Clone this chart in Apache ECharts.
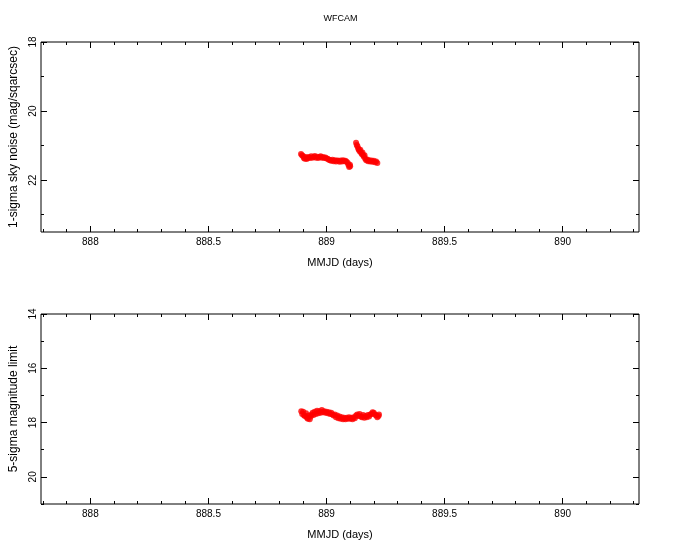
<!DOCTYPE html>
<html><head><meta charset="utf-8">
<script src="https://cdn.jsdelivr.net/npm/echarts@6/dist/echarts.min.js"></script>
<style>html,body{margin:0;padding:0;background:#fff}#c{width:681px;height:545px}</style>
</head><body><div id="c"></div>
<script>
const titleText = 'WFCAM';
const xName = 'MMJD (days)';
const yName1 = '1-sigma sky noise (mag/sqarcsec)';
const yName2 = '5-sigma magnitude limit';

const xMajorTicks = [888, 888.5, 889, 889.5, 890];
const xMinorTicks = [887.8, 887.9, 888.1, 888.2, 888.3, 888.4, 888.6, 888.7, 888.8, 888.9,
  889.1, 889.2, 889.3, 889.4, 889.6, 889.7, 889.8, 889.9, 890.1, 890.2, 890.3];
const y1MajorTicks = [18, 20, 22];
const y1MinorTicks = [19, 21, 23];
const y2MajorTicks = [14, 16, 18, 20];
const y2MinorTicks = [15, 17, 19, 21];

const noiseMjd = [888.892, 888.896, 888.900, 888.904, 888.908, 888.912, 888.916, 888.920, 888.925, 888.930,
  888.935, 888.940, 888.945, 888.950, 888.955, 888.960, 888.965, 888.970, 888.975, 888.980,
  888.985, 888.990, 888.995, 889.000, 889.005, 889.010, 889.015, 889.020, 889.025, 889.030,
  889.035, 889.040, 889.045, 889.050, 889.055, 889.060, 889.065, 889.070, 889.075, 889.080,
  889.085, 889.090, 889.093, 889.096, 889.099, 889.100,
  889.125, 889.128, 889.131, 889.134, 889.137, 889.140, 889.143, 889.146, 889.149, 889.152,
  889.155, 889.158, 889.161, 889.164, 889.168, 889.172, 889.176, 889.180, 889.185, 889.190,
  889.195, 889.200, 889.205, 889.210, 889.215];
const noiseVal = [21.24, 21.28, 21.30, 21.36, 21.38, 21.33, 21.39, 21.36, 21.33, 21.36,
  21.31, 21.35, 21.33, 21.30, 21.35, 21.32, 21.36, 21.33, 21.31, 21.35,
  21.33, 21.36, 21.34, 21.37, 21.38, 21.41, 21.42, 21.44, 21.41, 21.45,
  21.42, 21.46, 21.43, 21.44, 21.47, 21.43, 21.46, 21.42, 21.45, 21.44,
  21.47, 21.50, 21.56, 21.62, 21.55, 21.60,
  20.92, 20.98, 21.02, 21.08, 21.12, 21.16, 21.12, 21.20, 21.24, 21.20,
  21.28, 21.32, 21.28, 21.38, 21.42, 21.40, 21.45, 21.42, 21.46, 21.43,
  21.47, 21.44, 21.48, 21.46, 21.50];

const limitMjd = [888.893, 888.897, 888.901, 888.905, 888.909, 888.913, 888.917, 888.921, 888.925, 888.929,
  888.933, 888.937, 888.941, 888.945, 888.950, 888.955, 888.960, 888.965, 888.970, 888.975,
  888.980, 888.985, 888.990, 888.995, 889.000, 889.005, 889.010, 889.015, 889.020, 889.025,
  889.030, 889.035, 889.040, 889.045, 889.050, 889.055, 889.060, 889.065, 889.070, 889.075,
  889.080, 889.085, 889.090, 889.095, 889.100, 889.105, 889.110, 889.115, 889.120, 889.125,
  889.130, 889.135, 889.140, 889.145, 889.150, 889.155, 889.160, 889.165, 889.170, 889.175,
  889.180, 889.185, 889.190, 889.195, 889.200, 889.205, 889.210, 889.215, 889.220, 889.222];
const limitVal = [17.58, 17.68, 17.60, 17.74, 17.76, 17.66, 17.82, 17.86, 17.74, 17.88,
  17.78, 17.70, 17.64, 17.72, 17.60, 17.68, 17.56, 17.66, 17.58, 17.64,
  17.54, 17.62, 17.58, 17.64, 17.60, 17.66, 17.62, 17.68, 17.64, 17.70,
  17.74, 17.70, 17.80, 17.74, 17.84, 17.78, 17.86, 17.80, 17.88, 17.82,
  17.88, 17.82, 17.86, 17.80, 17.86, 17.82, 17.88, 17.80, 17.84, 17.74,
  17.70, 17.76, 17.68, 17.78, 17.80, 17.72, 17.82, 17.76, 17.80, 17.72,
  17.78, 17.70, 17.68, 17.62, 17.64, 17.70, 17.74, 17.80, 17.76, 17.70];

const X_MIN = 887.791, X_MAX = 890.323;
const Y1_MIN = 18, Y1_MAX = 23.5;
const Y2_MIN = 14, Y2_MAX = 21;

const FONT = 'Liberation Sans';
const BLACK = '#000';

function xAxesFor(gi) {
  const base = { type: 'value', gridIndex: gi, min: X_MIN, max: X_MAX,
    axisLine: { show: false }, splitLine: { show: false } };
  return [
    Object.assign({}, base, { position: 'bottom',
      axisTick: { inside: true, length: 6, customValues: xMajorTicks, lineStyle: { color: BLACK, width: 1 } },
      axisLabel: { customValues: xMajorTicks, color: BLACK, fontFamily: FONT, fontSize: 10, margin: 5,
        formatter: v => String(v) },
      name: xName, nameLocation: 'middle', nameGap: 25,
      nameTextStyle: { color: BLACK, fontFamily: FONT, fontSize: 11 } }),
    Object.assign({}, base, { position: 'bottom',
      axisTick: { inside: true, length: 3, customValues: xMinorTicks, lineStyle: { color: BLACK, width: 1 } },
      axisLabel: { show: false } }),
    Object.assign({}, base, { position: 'top',
      axisTick: { inside: true, length: 6, customValues: xMajorTicks, lineStyle: { color: BLACK, width: 1 } },
      axisLabel: { show: false } }),
    Object.assign({}, base, { position: 'top',
      axisTick: { inside: true, length: 3, customValues: xMinorTicks, lineStyle: { color: BLACK, width: 1 } },
      axisLabel: { show: false } })
  ];
}

function yAxesFor(gi, mn, mx, major, minor, name) {
  const base = { type: 'value', gridIndex: gi, min: mn, max: mx, inverse: true,
    axisLine: { show: false }, splitLine: { show: false } };
  return [
    Object.assign({}, base, { position: 'left',
      axisTick: { inside: true, length: 6, customValues: major, lineStyle: { color: BLACK, width: 1 } },
      axisLabel: { customValues: major, rotate: 90, color: BLACK, fontFamily: FONT, fontSize: 10, margin: 3,
        formatter: v => String(v) },
      name: name, nameLocation: 'middle', nameGap: 21, nameRotate: 90,
      nameTextStyle: { color: BLACK, fontFamily: FONT, fontSize: 12 } }),
    Object.assign({}, base, { position: 'left',
      axisTick: { inside: true, length: 3, customValues: minor, lineStyle: { color: BLACK, width: 1 } },
      axisLabel: { show: false } }),
    Object.assign({}, base, { position: 'right',
      axisTick: { inside: true, length: 6, customValues: major, lineStyle: { color: BLACK, width: 1 } },
      axisLabel: { show: false } }),
    Object.assign({}, base, { position: 'right',
      axisTick: { inside: true, length: 3, customValues: minor, lineStyle: { color: BLACK, width: 1 } },
      axisLabel: { show: false } })
  ];
}

const noiseData = noiseMjd.map((x, i) => [x, noiseVal[i]]);
const limitData = limitMjd.map((x, i) => [x, limitVal[i]]);

const chart = echarts.init(document.getElementById('c'), null, { renderer: 'canvas' });
chart.setOption({
  animation: false,
  backgroundColor: '#fff',
  title: { text: titleText, left: 'center', top: 9,
    textStyle: { color: BLACK, fontFamily: FONT, fontSize: 9, fontWeight: 'normal' } },
  grid: [
    { left: 41, top: 42, width: 598, height: 190, show: true, borderColor: BLACK, borderWidth: 1, containLabel: false },
    { left: 41, top: 314, width: 598, height: 190, show: true, borderColor: BLACK, borderWidth: 1, containLabel: false }
  ],
  xAxis: xAxesFor(0).concat(xAxesFor(1)),
  yAxis: yAxesFor(0, Y1_MIN, Y1_MAX, y1MajorTicks, y1MinorTicks, yName1)
    .concat(yAxesFor(1, Y2_MIN, Y2_MAX, y2MajorTicks, y2MinorTicks, yName2)),
  series: [
    { type: 'scatter', xAxisIndex: 0, yAxisIndex: 0, data: noiseData, symbol: 'circle', symbolSize: 6,
      itemStyle: { color: '#ff0000' }, emphasis: { disabled: true } },
    { type: 'scatter', xAxisIndex: 4, yAxisIndex: 4, data: limitData, symbol: 'circle', symbolSize: 6,
      itemStyle: { color: '#ff0000' }, emphasis: { disabled: true } }
  ]
});
</script>
</body></html>
